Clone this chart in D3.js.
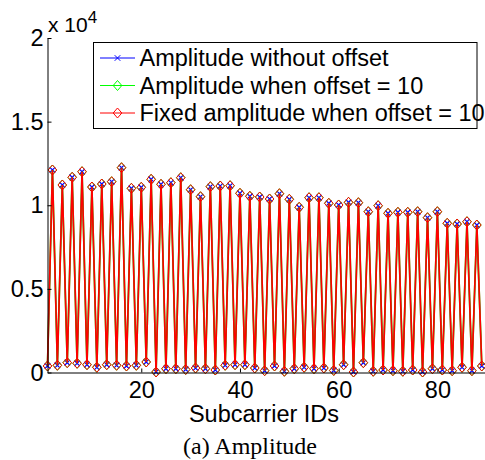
<!DOCTYPE html>
<html lang="en">
<head>
<meta charset="UTF-8">
<title>Amplitude</title>
<script src="https://cdn.jsdelivr.net/npm/d3@7"></script>
<style>
  body { margin: 0; background: #fff; }
  text { font-family: "Liberation Sans", Arial, Helvetica, sans-serif; fill: #000; }
</style>
</head>
<body>
<script>
    // subcarrier IDs 1..89
    var subcarrierIds = [1,2,3,4,5,6,7,8,9,10,11,12,13,14,15,16,17,18,19,20,21,22,23,24,25,26,27,28,29,30,
        31,32,33,34,35,36,37,38,39,40,41,42,43,44,45,46,47,48,49,50,51,52,53,54,55,56,57,58,59,60,
        61,62,63,64,65,66,67,68,69,70,71,72,73,74,75,76,77,78,79,80,81,82,83,84,85,86,87,88,89];

    // amplitude (the three series lie on top of each other)
    var ampNoOffset = [389,12108,430,11211,586,11671,550,12006,466,11091,311,11270,466,11408,430,12245,
        389,11013,430,11073,628,11551,30,11252,227,11348,227,11647,180,10930,269,10511,227,11109,
        150,11151,430,11169,466,10715,466,10535,269,10493,108,10374,389,10691,72,10356,227,9877,
        311,10451,227,10451,269,10117,120,10015,466,10176,30,10153,586,9614,72,9973,150,9519,
        108,9578,72,9578,150,9614,30,9256,227,9614,150,8921,108,8879,311,9016,108,8819,389];
    var ampOffset10 = ampNoOffset.slice();
    var ampFixed = ampNoOffset.slice();

    var seriesNames = ["Amplitude without offset", "Amplitude when offset = 10", "Fixed amplitude when offset = 10"];
    var seriesColors = ["#0000ff", "#00ff00", "#ff0000"];
    var seriesMarkers = ["x", "diamond", "diamond"];
    var yTicks = [0, 5000, 10000, 15000, 20000];
    var xTicks = [20, 40, 60, 80];

    var width = 485, height = 460;
    var fontSize = 23.5;

    var svg = d3.select("body").append("svg")
        .attr("width", width)
        .attr("height", height);

    var xScale = d3.scaleLinear().domain([1, 89.65]).range([47.5, 485]);
    var yScale = d3.scaleLinear().domain([0, 20000]).range([372.5, 38]);

    var series = [ampNoOffset, ampOffset10, ampFixed];

    // marker shapes
    function markerPath(type) {
        if (type === "x") return "M-2.8,-2.8L2.8,2.8M-2.8,2.8L2.8,-2.8";
        return "M0,-5L4.3,0L0,5L-4.3,0Z";
    }

    var line = d3.line()
        .x(function (d, i) { return xScale(subcarrierIds[i]); })
        .y(function (d) { return yScale(d); });

    var plot = svg.append("g");
    series.forEach(function (vals, k) {
        var g = plot.append("g");
        g.append("path")
            .datum(vals)
            .attr("d", line)
            .attr("fill", "none")
            .attr("stroke", seriesColors[k])
            .attr("stroke-width", k === 0 ? 1 : 1.7);
        g.selectAll("path.mk")
            .data(vals)
            .enter()
            .append("path")
            .attr("class", "mk")
            .attr("transform", function (d, i) {
                return "translate(" + xScale(subcarrierIds[i]) + "," + yScale(d) + ")";
            })
            .attr("d", markerPath(seriesMarkers[k]))
            .attr("fill", "none")
            .attr("stroke", seriesColors[k])
            .attr("stroke-width", k === 0 ? 1.2 : 1);
    });

    // axes, ticks point inward like matlab
    var axisY = d3.axisLeft(yScale)
        .tickValues(yTicks)
        .tickFormat(function (d) { return d / 10000; })
        .tickSizeInner(-4).tickSizeOuter(0).tickPadding(4);
    var axisX = d3.axisBottom(xScale)
        .tickValues(xTicks)
        .tickSizeInner(-4).tickSizeOuter(0).tickPadding(9);

    var gY = svg.append("g")
        .attr("transform", "translate(47.5,0)")
        .call(axisY);
    var gX = svg.append("g")
        .attr("transform", "translate(0,372.5)")
        .call(axisX);
    [gY, gX].forEach(function (g) {
        g.selectAll("text").attr("font-size", fontSize).attr("font-family", null);
        g.selectAll("path, line").attr("stroke", "#000");
        g.attr("font-family", null);
    });

    // exponent label
    var expo = svg.append("text").attr("x", 48).attr("y", 32).attr("font-size", 21);
    expo.append("tspan").text("x 10");
    expo.append("tspan").attr("font-size", 17).attr("dy", -9).text("4");

    // x label + caption
    svg.append("text")
        .attr("x", 264).attr("y", 422)
        .attr("text-anchor", "middle")
        .attr("font-size", fontSize)
        .text("Subcarrier IDs");
    svg.append("text")
        .attr("x", 250).attr("y", 454)
        .attr("text-anchor", "middle")
        .attr("font-size", 24)
        .style("font-family", "'Liberation Serif', 'Times New Roman', serif")
        .text("(a) Amplitude");

    // legend
    var legend = svg.append("g");
    legend.append("rect")
        .attr("x", 93.5).attr("y", 42.5)
        .attr("width", 383.5).attr("height", 86)
        .attr("fill", "#fff").attr("stroke", "#000").attr("stroke-width", 1);
    var rowY = [58, 85.5, 113];
    seriesNames.forEach(function (name, k) {
        legend.append("line")
            .attr("x1", 100).attr("x2", 135)
            .attr("y1", rowY[k]).attr("y2", rowY[k])
            .attr("stroke", seriesColors[k]).attr("stroke-width", 1);
        legend.append("path")
            .attr("transform", "translate(117.5," + rowY[k] + ")")
            .attr("d", markerPath(seriesMarkers[k]))
            .attr("fill", "none")
            .attr("stroke", seriesColors[k]);
        legend.append("text")
            .attr("x", 139.5).attr("y", rowY[k] + 8)
            .attr("font-size", fontSize)
            .text(name);
    });
</script>
</body>
</html>
